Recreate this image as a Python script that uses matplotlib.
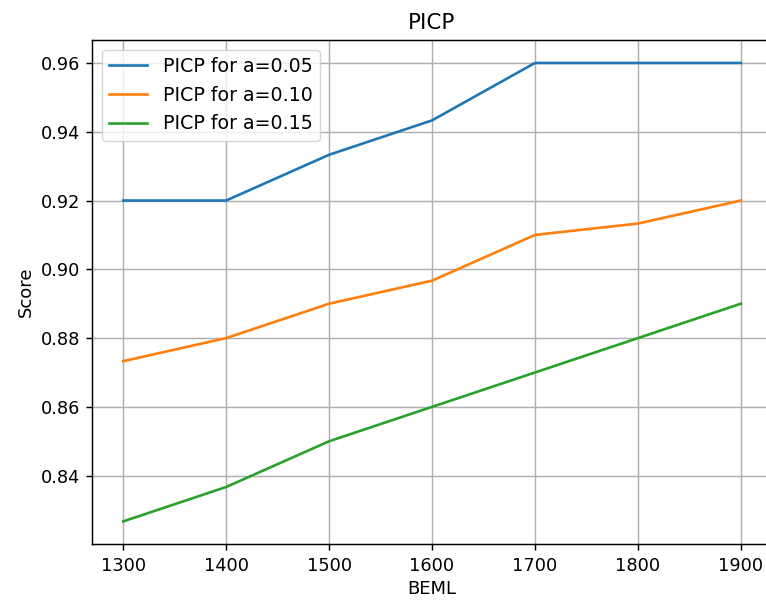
import matplotlib
matplotlib.use("Agg")
import matplotlib.pyplot as plt

beml = [1300, 1400, 1500, 1600, 1700, 1800, 1900]
picp_005 = [0.92, 0.92, 0.9333, 0.9433, 0.96, 0.96, 0.96]
picp_010 = [0.8733, 0.88, 0.89, 0.8967, 0.91, 0.9133, 0.92]
picp_015 = [0.8267, 0.8367, 0.85, 0.86, 0.87, 0.88, 0.89]
labels = ["PICP for a=0.05", "PICP for a=0.10", "PICP for a=0.15"]

plt.rcParams["font.size"] = 12.8
fig = plt.figure(figsize=(7.66, 6.02), dpi=100)
ax = fig.add_axes([0.1205, 0.0958, 0.887, 0.8377])

for ys, lab in zip([picp_005, picp_010, picp_015], labels):
    ax.plot(beml, ys, lw=1.9, label=lab)

ax.set_title("PICP", fontsize=15.4, pad=8)
ax.set_xlabel("BEML", fontsize=13)
ax.set_ylabel("Score", fontsize=13)
ax.grid(True, color="#b0b0b0", lw=1.05)
ax.set_yticks([0.84, 0.86, 0.88, 0.90, 0.92, 0.94, 0.96])
ax.legend(loc="upper left", fontsize=13.7)
for s in ax.spines.values():
    s.set_linewidth(1.05)
ax.tick_params(width=1.05, length=4.5, pad=4.5)

fig.savefig("out.png", dpi=100)
